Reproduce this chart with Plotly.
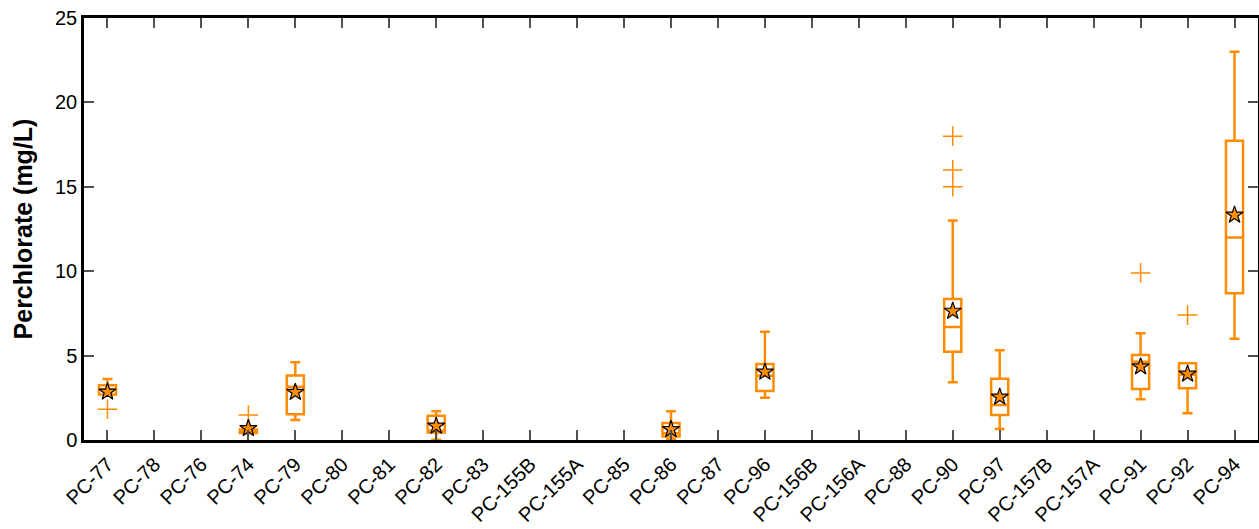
import plotly.graph_objects as go

categories = ["PC-77", "PC-78", "PC-76", "PC-74", "PC-79", "PC-80", "PC-81", "PC-82",
              "PC-83", "PC-155B", "PC-155A", "PC-85", "PC-86", "PC-87", "PC-96",
              "PC-156B", "PC-156A", "PC-88", "PC-90", "PC-97", "PC-157B", "PC-157A",
              "PC-91", "PC-92", "PC-94"]

box_sites = ["PC-77", "PC-74", "PC-79", "PC-82", "PC-86", "PC-96", "PC-90", "PC-97",
             "PC-91", "PC-92", "PC-94"]
q1 = [2.69, 0.42, 1.52, 0.45, 0.20, 2.90, 5.23, 1.48, 3.02, 3.06, 8.70]
median = [3.00, 0.50, 3.15, 0.55, 0.40, 3.80, 6.70, 2.07, 4.64, 3.87, 12.00]
q3 = [3.24, 0.62, 3.82, 1.44, 1.00, 4.50, 8.35, 3.63, 5.04, 4.54, 17.73]
lower_whisker = [2.65, 0.40, 1.18, 0.02, 0.04, 2.51, 3.42, 0.65, 2.41, 1.58, 6.00]
upper_whisker = [3.62, 0.65, 4.60, 1.70, 1.70, 6.42, 13.00, 5.31, 6.32, 4.54, 23.00]
means = [2.85, 0.69, 2.83, 0.83, 0.63, 4.03, 7.64, 2.55, 4.34, 3.91, 13.33]

outlier_sites = ["PC-77", "PC-74", "PC-90", "PC-90", "PC-90", "PC-91", "PC-92"]
outlier_values = [1.82, 1.48, 18.0, 16.0, 15.0, 9.9, 7.4]

y_ticks = [0, 5, 10, 15, 20, 25]

ORANGE = "#FF8C00"
FONT = "Arial, Liberation Sans, sans-serif"

fig = go.Figure()
fig.add_trace(go.Box(
    x=box_sites, q1=q1, median=median, q3=q3,
    lowerfence=lower_whisker, upperfence=upper_whisker,
    boxpoints=False, line=dict(color=ORANGE, width=2.5),
    fillcolor="rgba(0,0,0,0)", whiskerwidth=0.58, showlegend=False,
))
fig.add_trace(go.Scatter(
    x=outlier_sites, y=outlier_values, mode="markers", showlegend=False,
    marker=dict(symbol="cross-thin", size=14, color=ORANGE,
                line=dict(color=ORANGE, width=1.5)),
))
fig.add_trace(go.Scatter(
    x=box_sites, y=means, mode="markers", showlegend=False,
    marker=dict(symbol="star", size=13, color=ORANGE,
                line=dict(color="black", width=1.2)),
))

fig.update_layout(
    width=1259, height=529, autosize=False,
    margin=dict(l=84, r=1, t=18, b=89),
    plot_bgcolor="white", paper_bgcolor="white",
    boxgap=0.48,
    font=dict(family=FONT, color="black", size=20),
)
fig.update_xaxes(
    type="category", categoryorder="array", categoryarray=categories,
    range=[-0.5, len(categories) - 0.5], automargin=False,
    tickangle=-45, ticks="inside", ticklen=10, tickwidth=2, tickcolor="#505050",
    showline=True, linecolor="black", linewidth=2.5, mirror="ticks",
    showgrid=False, zeroline=False, tickfont=dict(size=20),
    ticklabelstandoff=2,
)
fig.update_yaxes(
    range=[0, 25], tickvals=y_ticks, ticks="inside", ticklen=10, tickwidth=2,
    tickcolor="#505050", showline=True, linecolor="black", linewidth=2.5,
    mirror="ticks", showgrid=False, zeroline=False, tickfont=dict(size=20),
    automargin=False,
    title=dict(text="<b>Perchlorate (mg/L)</b>", font=dict(size=25), standoff=16),
)

post = """
document.body.style.margin = '0';
document.body.style.overflow = 'hidden';
var gd = document.getElementById('{plot_id}');
Plotly.relayout(gd, {width: 1259, height: 529});
"""

fig.write_html("out.html", post_script=post,
               config={"responsive": False, "displayModeBar": False})
